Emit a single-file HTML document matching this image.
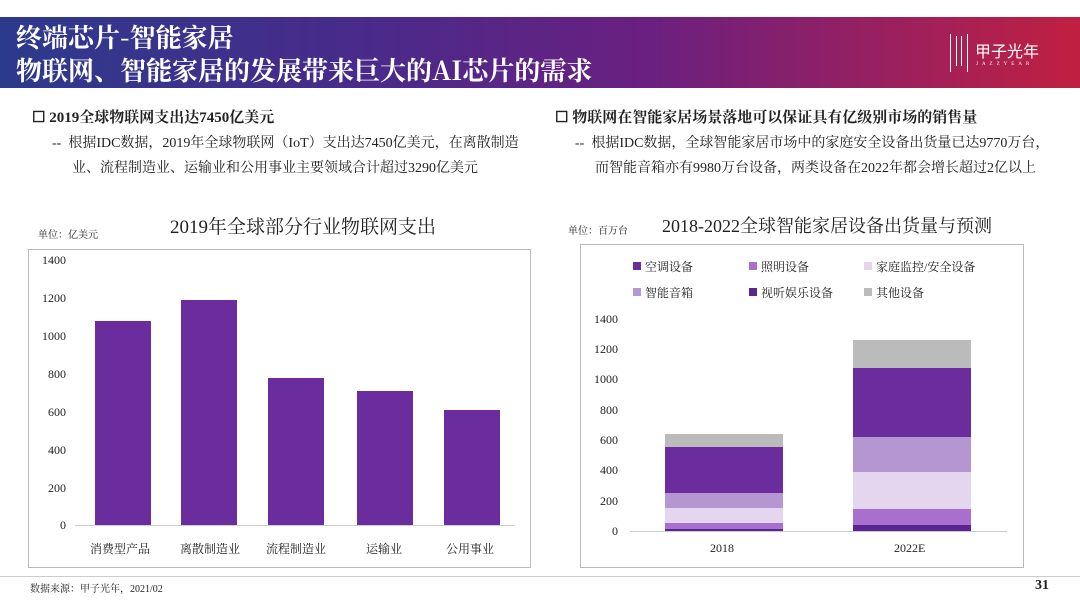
<!DOCTYPE html><html><head><meta charset="utf-8"><style>
*{margin:0;padding:0;box-sizing:border-box}
body{width:1080px;height:607px;background:#fff;position:relative;overflow:hidden;font-family:"Liberation Serif","Noto Serif CJK SC",serif;color:#222}
.a{position:absolute;white-space:nowrap}
.banner{position:absolute;left:0;top:17px;width:1080px;height:71px;background:linear-gradient(90deg,#2c3a8c 0%,#4a2a8a 35%,#6a2080 60%,#a0205a 85%,#c02040 100%)}
.bt{color:#fff;font-weight:bold;font-size:26px;font-family:"Noto Serif CJK SC",serif;line-height:30px}
.box{position:absolute;border:1px solid #bbb}
.yl{position:absolute;font-size:12px;text-align:right;width:40px}
</style></head><body>
<div class="banner"></div>
<div class="a bt" style="left:16px;top:22px">终端芯片-智能家居</div>
<div class="a bt" style="left:16px;top:55px">物联网、智能家居的发展带来巨大的AI芯片的需求</div>
<div class="a" style="left:950px;top:34px;width:18px;height:38px;border-left:1px solid #fff;border-right:1px solid #fff"></div>
<div class="a" style="left:956px;top:36px;width:6px;height:30px;border-left:1px solid #fff;border-right:1px solid #fff"></div>
<div class="a" style="left:975px;top:38px;color:#fff;font-size:16px;font-family:'Noto Sans CJK SC',sans-serif">甲子光年</div>
<div class="a" style="left:976px;top:62px;color:#fff;font-size:5px;letter-spacing:4px">JAZZYEAR</div>

<div class="a" style="left:32px;top:106px;font-size:15px;font-weight:bold">☐ 2019全球物联网支出达7450亿美元</div>
<div class="a" style="left:52px;top:131px;font-size:14px;line-height:25px">--&nbsp; 根据IDC数据，2019年全球物联网（IoT）支出达7450亿美元，在离散制造<br><span style="padding-left:20px">业、流程制造业、运输业和公用事业主要领域合计超过3290亿美元</span></div>
<div class="a" style="left:555px;top:106px;font-size:15px;font-weight:bold">☐ 物联网在智能家居场景落地可以保证具有亿级别市场的销售量</div>
<div class="a" style="left:575px;top:131px;font-size:14px;line-height:25px">--&nbsp; 根据IDC数据，全球智能家居市场中的家庭安全设备出货量已达9770万台，<br><span style="padding-left:20px">而智能音箱亦有9980万台设备，两类设备在2022年都会增长超过2亿以上</span></div>

<div class="a" style="left:38px;top:226px;font-size:10px">单位：亿美元</div>
<div class="a" style="left:170px;top:212px;font-size:19px">2019年全球部分行业物联网支出</div>
<div class="box" style="left:28px;top:249px;width:503px;height:319px"></div>
<div class="yl" style="left:26px;top:253px">1400</div><div class="yl" style="left:26px;top:291px">1200</div><div class="yl" style="left:26px;top:329px">1000</div><div class="yl" style="left:26px;top:367px">800</div><div class="yl" style="left:26px;top:405px">600</div><div class="yl" style="left:26px;top:443px">400</div><div class="yl" style="left:26px;top:481px">200</div><div class="yl" style="left:26px;top:518px">0</div>
<div class="a" style="left:75px;top:525px;width:440px;height:1px;background:#ccc"></div>
<div class="a" style="left:95px;top:321px;width:56px;height:204px;background:#6b2c9e"></div>
<div class="a" style="left:181px;top:300px;width:56px;height:225px;background:#6b2c9e"></div>
<div class="a" style="left:268px;top:378px;width:56px;height:147px;background:#6b2c9e"></div>
<div class="a" style="left:357px;top:391px;width:56px;height:134px;background:#6b2c9e"></div>
<div class="a" style="left:444px;top:410px;width:56px;height:115px;background:#6b2c9e"></div>
<div class="a" style="left:90px;top:540px;font-size:12px">消费型产品</div>
<div class="a" style="left:180px;top:540px;font-size:12px">离散制造业</div>
<div class="a" style="left:266px;top:540px;font-size:12px">流程制造业</div>
<div class="a" style="left:366px;top:540px;font-size:12px">运输业</div>
<div class="a" style="left:446px;top:540px;font-size:12px">公用事业</div>

<div class="a" style="left:568px;top:222px;font-size:10px">单位：百万台</div>
<div class="a" style="left:662px;top:212px;font-size:18px">2018-2022全球智能家居设备出货量与预测</div>
<div class="box" style="left:580px;top:244px;width:444px;height:324px"></div>
<div class="a" style="left:633px;top:262px;width:8px;height:8px;background:#6b2c9e"></div><div class="a" style="left:645px;top:258px;font-size:12px">空调设备</div>
<div class="a" style="left:749px;top:262px;width:8px;height:8px;background:#a86fcf"></div><div class="a" style="left:761px;top:258px;font-size:12px">照明设备</div>
<div class="a" style="left:864px;top:262px;width:8px;height:8px;background:#e4d6ee"></div><div class="a" style="left:876px;top:258px;font-size:12px">家庭监控/安全设备</div>
<div class="a" style="left:633px;top:288px;width:8px;height:8px;background:#b596d0"></div><div class="a" style="left:645px;top:284px;font-size:12px">智能音箱</div>
<div class="a" style="left:749px;top:288px;width:8px;height:8px;background:#5a2590"></div><div class="a" style="left:761px;top:284px;font-size:12px">视听娱乐设备</div>
<div class="a" style="left:864px;top:288px;width:8px;height:8px;background:#bbb"></div><div class="a" style="left:876px;top:284px;font-size:12px">其他设备</div>
<div class="yl" style="left:578px;top:312px">1400</div><div class="yl" style="left:578px;top:342px">1200</div><div class="yl" style="left:578px;top:372px">1000</div><div class="yl" style="left:578px;top:403px">800</div><div class="yl" style="left:578px;top:433px">600</div><div class="yl" style="left:578px;top:463px">400</div><div class="yl" style="left:578px;top:494px">200</div><div class="yl" style="left:578px;top:524px">0</div>
<div class="a" style="left:630px;top:531px;width:377px;height:1px;background:#ccc"></div>
<div class="a" style="left:665px;top:434px;width:118px;height:13px;background:#bbb"></div>
<div class="a" style="left:665px;top:447px;width:118px;height:46px;background:#6b2c9e"></div>
<div class="a" style="left:665px;top:493px;width:118px;height:15px;background:#b596d0"></div>
<div class="a" style="left:665px;top:508px;width:118px;height:15px;background:#e4d6ee"></div>
<div class="a" style="left:665px;top:523px;width:118px;height:6px;background:#a86fcf"></div>
<div class="a" style="left:665px;top:529px;width:118px;height:2px;background:#5a2590"></div>
<div class="a" style="left:853px;top:340px;width:118px;height:28px;background:#bbb"></div>
<div class="a" style="left:853px;top:368px;width:118px;height:69px;background:#6b2c9e"></div>
<div class="a" style="left:853px;top:437px;width:118px;height:35px;background:#b596d0"></div>
<div class="a" style="left:853px;top:472px;width:118px;height:37px;background:#e4d6ee"></div>
<div class="a" style="left:853px;top:509px;width:118px;height:16px;background:#a86fcf"></div>
<div class="a" style="left:853px;top:525px;width:118px;height:6px;background:#5a2590"></div>
<div class="a" style="left:710px;top:541px;font-size:12px">2018</div>
<div class="a" style="left:894px;top:541px;font-size:12px">2022E</div>

<div class="a" style="left:0;top:576px;width:1080px;height:1px;background:#ccc"></div>
<div class="a" style="left:30px;top:580px;font-size:10px">数据来源：甲子光年，2021/02</div>
<div class="a" style="left:1035px;top:578px;font-size:14px;font-weight:bold">31</div>
</body></html>
